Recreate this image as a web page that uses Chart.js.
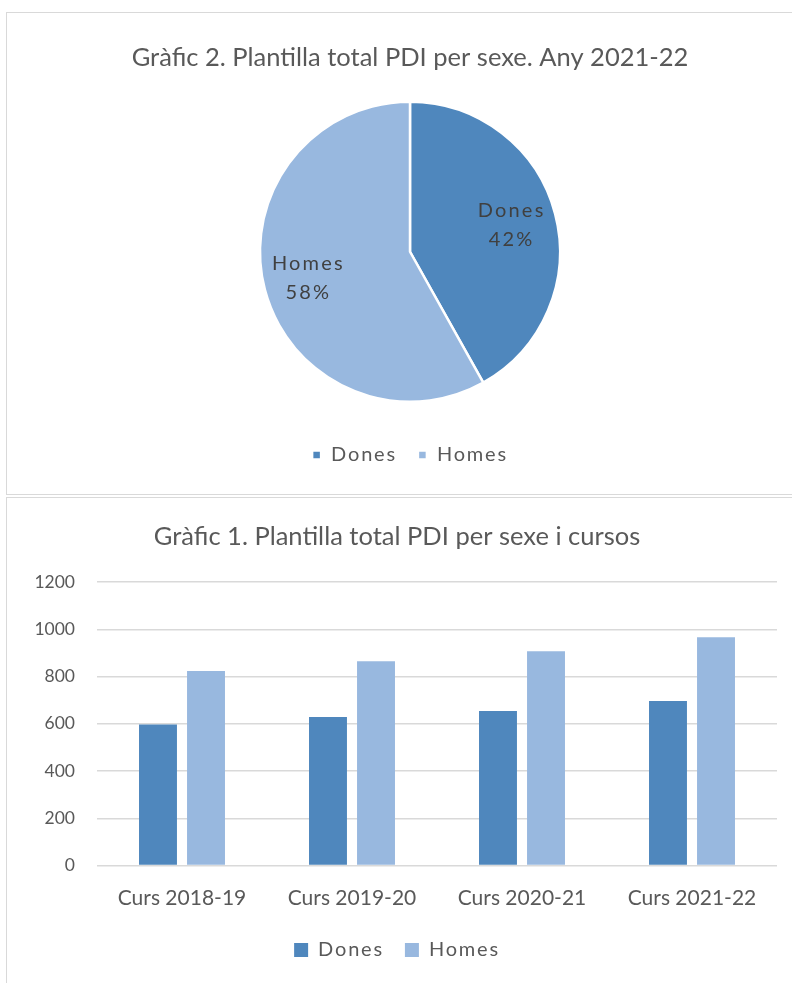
<!DOCTYPE html>
<html>
<head>
<meta charset="utf-8">
<script src="https://cdn.jsdelivr.net/npm/chart.js@4.4.1/dist/chart.umd.min.js"></script>
<style>
  html, body { margin: 0; padding: 0; background: #fff; overflow: hidden; }
  body { width: 792px; height: 983px; position: relative; }
  .box { position: absolute; border: 1.5px solid #d9d9d9; box-sizing: border-box; }
  canvas { position: absolute; }
</style>
</head>
<body>
<div class="box" style="left:6px; top:12px; width:820px; height:483px;"></div>
<div class="box" style="left:6px; top:497px; width:820px; height:500px;"></div>
<canvas id="pieChart" style="left:7px; top:13px;" width="806" height="480"></canvas>
<canvas id="barChart" style="left:7px; top:498px;" width="806" height="485"></canvas>
<script>
// dades
const cursos = ['Curs 2018-19', 'Curs 2019-20', 'Curs 2020-21', 'Curs 2021-22'];
const dones = [597, 629, 654, 696];
const homes = [823, 865, 907, 966];
const sexes = ['Dones', 'Homes'];
const yTicks = [0, 200, 400, 600, 800, 1000, 1200];

const blauFosc = '#4f87bd';
const blauClar = '#98b8df';
const grisText = '#595959';
const fontFamily = 'Lato, "Liberation Sans", sans-serif';

Chart.defaults.font.family = fontFamily;
Chart.defaults.color = grisText;

// la llegenda de l'Excel té el text espaiat
const espaiatLlegenda = {
    id: 'espaiatLlegenda',
    afterInit(chart) {
        const lg = chart.legend;
        ['fit', 'draw'].forEach(fn => {
            const orig = lg[fn].bind(lg);
            lg[fn] = function(...args) {
                const c = chart.ctx;
                const prev = c.letterSpacing;
                c.letterSpacing = '1.8px';
                orig(...args);
                c.letterSpacing = prev;
            };
        });
    }
};

// etiquetes dins del pastís
const pieLabels = {
    id: 'pieLabels',
    afterDatasetsDraw(chart) {
        const ctx = chart.ctx;
        const data = chart.data.datasets[0].data;
        const total = data.reduce((a, b) => a + b, 0);
        chart.getDatasetMeta(0).data.forEach((arc, i) => {
            const p = arc.getProps(['x', 'y', 'startAngle', 'endAngle', 'outerRadius'], true);
            const mid = (p.startAngle + p.endAngle) / 2;
            const r = p.outerRadius * 0.7;
            const x = p.x + Math.cos(mid) * r;
            const y = p.y + Math.sin(mid) * r;
            ctx.save();
            ctx.font = '20px ' + fontFamily;
            ctx.fillStyle = '#404040';
            ctx.textAlign = 'center';
            ctx.textBaseline = 'middle';
            ctx.letterSpacing = '2.2px';
            ctx.fillText(chart.data.labels[i], x, y - 14.5);
            ctx.fillText(Math.round(data[i] / total * 100) + '%', x, y + 14.5);
            ctx.restore();
        });
    }
};

const last = cursos.length - 1;

new Chart(document.getElementById('pieChart').getContext('2d'), {
    type: 'pie',
    data: {
        labels: sexes,
        datasets: [{
            data: [dones[last], homes[last]],
            backgroundColor: [blauFosc, blauClar],
            borderColor: '#fff',
            borderWidth: 2.5,
            radius: 150
        }]
    },
    options: {
        responsive: false,
        animation: false,
        layout: { padding: { bottom: 18 } },
        plugins: {
            title: {
                display: true,
                text: 'Gràfic 2. Plantilla total PDI per sexe. Any 2021-22',
                font: { size: 25.5, weight: 'normal' },
                color: grisText,
                padding: { top: 29.7, bottom: 6.2 }
            },
            legend: {
                position: 'bottom',
                labels: {
                    boxWidth: 9,
                    boxHeight: 9,
                    padding: 21,
                    font: { size: 20 },
                    color: grisText
                }
            },
            tooltip: { enabled: false }
        }
    },
    plugins: [pieLabels, espaiatLlegenda]
});

new Chart(document.getElementById('barChart').getContext('2d'), {
    type: 'bar',
    data: {
        labels: cursos,
        datasets: [
            { label: 'Dones', data: dones, backgroundColor: blauFosc },
            { label: 'Homes', data: homes, backgroundColor: blauClar }
        ]
    },
    options: {
        responsive: false,
        animation: false,
        categoryPercentage: 0.565,
        barPercentage: 0.79,
        layout: { padding: { left: 10, right: 36, bottom: 13 } },
        scales: {
            x: {
                grid: { display: false, drawTicks: false },
                border: { display: false },
                ticks: { font: { size: 21 }, color: grisText, padding: 20 },
                afterFit(scale) { scale.height = 53.5; }
            },
            y: {
                min: yTicks[0],
                max: yTicks[yTicks.length - 1],
                afterBuildTicks(scale) { scale.ticks = yTicks.map(v => ({ value: v })); },
                grid: { color: '#d9d9d9', lineWidth: 1.5, drawTicks: false },
                border: { display: false },
                ticks: {
                    font: { size: 17.5 },
                    color: grisText,
                    padding: 22,
                    callback: v => String(v)
                },
                afterFit(scale) { scale.width = 80; }
            }
        },
        plugins: {
            title: {
                display: true,
                text: 'Gràfic 1. Plantilla total PDI per sexe i cursos',
                font: { size: 25.5, weight: 'normal' },
                color: grisText,
                padding: { top: 23.7, bottom: 29.7 }
            },
            legend: {
                position: 'bottom',
                labels: {
                    boxWidth: 14,
                    boxHeight: 14,
                    padding: 21,
                    font: { size: 20 },
                    color: grisText
                }
            },
            tooltip: { enabled: false }
        }
    },
    plugins: [espaiatLlegenda]
});
</script>
</body>
</html>
